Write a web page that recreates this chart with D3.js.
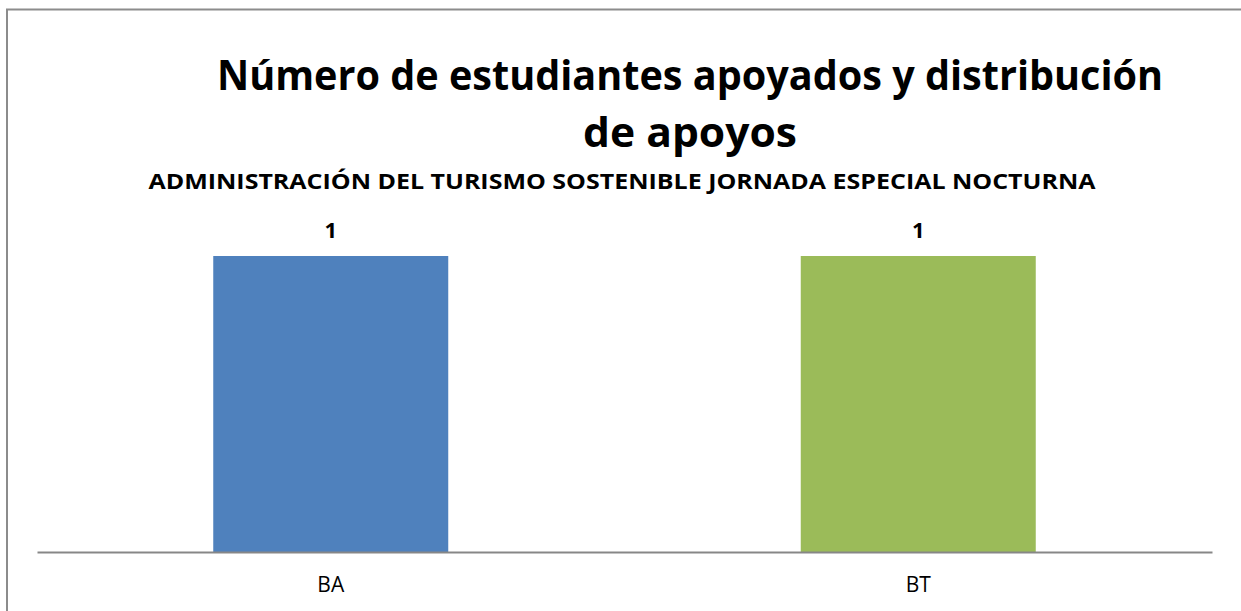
<!DOCTYPE html>
<html>
  <head>
    <meta charset="utf-8">
    <title>Número de estudiantes apoyados</title>
    <script src="https://d3js.org/d3.v7.min.js"></script>
    <style>
      body { margin: 0; background: #fff; overflow: hidden; }
      svg { display: block; }
      text { font-family: "Open Sans", "Noto Sans", sans-serif; fill: #000; }
    </style>
  </head>
  <body>
<script>
// data
var categories = ["BA", "BT"];
var values = [1, 1];
var barColors = ["#4f81bd", "#9bbb59"];
var titleLines = ["Número de estudiantes apoyados y distribución", "de apoyos"];
var subtitle = "ADMINISTRACIÓN DEL TURISMO SOSTENIBLE JORNADA ESPECIAL NOCTURNA";

var width = 1241,
    height = 611,
    plot = { left: 37, right: 1212, top: 256, bottom: 552 },
    svg = d3.select("body").append("svg")
      .attr("width", width)
      .attr("height", height);

// outer chart border: only top and left edges are inside the picture
svg.append("path")
  .attr("d", "M7," + height + "V9.5H" + width)
  .attr("fill", "none")
  .attr("stroke", "#8c8c8c")
  .attr("stroke-width", 2);

// titles
svg.append("text")
  .attr("x", 690).attr("y", 90)
  .attr("text-anchor", "middle")
  .attr("font-size", 41).attr("font-weight", "bold")
  .attr("textLength", 946).attr("lengthAdjust", "spacingAndGlyphs")
  .text(titleLines[0]);

svg.append("text")
  .attr("x", 690).attr("y", 147)
  .attr("text-anchor", "middle")
  .attr("font-size", 42).attr("font-weight", "bold")
  .attr("textLength", 214).attr("lengthAdjust", "spacingAndGlyphs")
  .text(titleLines[1]);

svg.append("text")
  .attr("x", 622).attr("y", 189)
  .attr("text-anchor", "middle")
  .attr("font-size", 22).attr("font-weight", "bold")
  .attr("textLength", 947).attr("lengthAdjust", "spacingAndGlyphs")
  .text(subtitle);

var x = d3.scaleBand()
  .domain(categories)
  .range([plot.left, plot.right])
  .padding(0);

var barWidth = x.bandwidth() * 0.4;

var y = d3.scaleLinear()
  .domain([0, 1])
  .range([plot.bottom, plot.top]);

var rows = categories.map(function (c, i) {
  return { cat: c, value: values[i], color: barColors[i] };
});

svg.append("g").selectAll("rect")
  .data(rows)
  .enter().append("rect")
    .attr("x", function (d) { return x(d.cat) + (x.bandwidth() - barWidth) / 2; })
    .attr("y", function (d) { return y(d.value); })
    .attr("width", barWidth)
    .attr("height", function (d) { return y(0) - y(d.value); })
    .attr("fill", function (d) { return d.color; });

// value labels
svg.append("g").selectAll("text")
  .data(rows)
  .enter().append("text")
    .attr("x", function (d) { return x(d.cat) + x.bandwidth() / 2; })
    .attr("y", function (d) { return y(d.value) - 18; })
    .attr("text-anchor", "middle")
    .attr("font-size", 22)
    .attr("font-weight", "bold")
    .text(function (d) { return d.value; });

// category axis
var axis = svg.append("g")
  .attr("transform", "translate(0," + plot.bottom + ")")
  .call(d3.axisBottom(x).tickSize(0).tickPadding(25));

axis.select(".domain")
  .attr("stroke", "#878787")
  .attr("stroke-width", 2);

axis.selectAll("text")
  .attr("font-size", 21)
  .attr("font-family", "'Open Sans', sans-serif")
  .attr("fill", "#000");
</script>
  </body>
</html>
